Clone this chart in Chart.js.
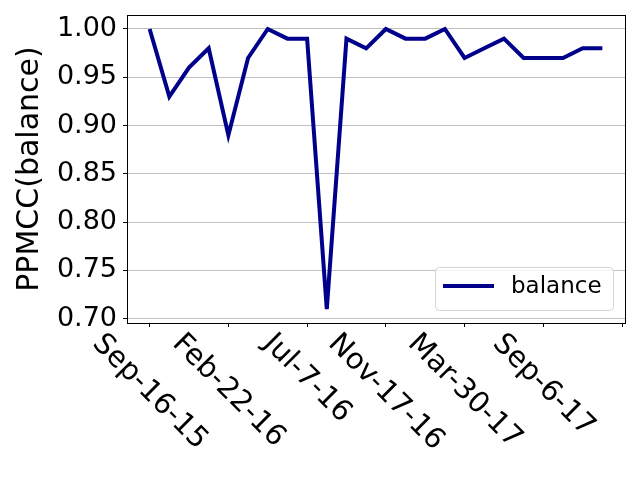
<!DOCTYPE html>
<html>
<head>
<meta charset="utf-8">
<script src="https://cdn.jsdelivr.net/npm/chart.js@4/dist/chart.umd.min.js"></script>
<style>
  html, body { margin: 0; padding: 0; background: #fff; }
  #wrap { width: 640px; height: 480px; }
</style>
</head>
<body>
<div id="wrap"><canvas id="ppmcc" width="640" height="480"></canvas></div>
<script>
// one point per period, ticks every 4th period
const balance = [1.00, 0.93, 0.96, 0.98, 0.89, 0.97, 1.00, 0.99, 0.99, 0.71, 0.99, 0.98,
                 1.00, 0.99, 0.99, 1.00, 0.97, 0.98, 0.99, 0.97, 0.97, 0.97, 0.98, 0.98]
const xTickPos = [0, 4, 8, 12, 16, 20, 24]
const xTickLabels = ['Sep-16-15', 'Feb-22-16', 'Jul-7-16', 'Nov-17-16', 'Mar-30-17', 'Sep-6-17', '']
const yTicks = [0.70, 0.75, 0.80, 0.85, 0.90, 0.95, 1.00]

const FONT = "'DejaVu Sans', sans-serif"
const lineColor = '#00008b'

const points = balance.map((v, i) => ({ x: i, y: v }))

// frame, rotated x labels and the legend box
const extras = {
    id: 'extras',
    afterDraw(chart) {
        const ctx = chart.ctx
        const area = chart.chartArea
        const xs = chart.scales.x
        ctx.save()
        ctx.strokeStyle = '#000'
        ctx.lineWidth = 1
        ctx.strokeRect(area.left + 0.5, area.top + 0.5, area.right - area.left, area.bottom - area.top)

        ctx.font = '29px ' + FONT
        ctx.fillStyle = '#000'
        ctx.textAlign = 'center'
        ctx.textBaseline = 'middle'
        xTickPos.forEach((p, i) => {
            const txt = xTickLabels[i]
            if (!txt) return
            const w = ctx.measureText(txt).width
            const side = (w + 29) / Math.SQRT2
            const cx = xs.getPixelForValue(p)
            const cy = area.bottom + 6 + side / 2
            ctx.save()
            ctx.translate(cx, cy)
            ctx.rotate(Math.PI / 4)
            ctx.fillText(txt, 0, 0)
            ctx.restore()
        })

        // legend
        const bx = area.right - 190, by = area.bottom - 56, bw = 178, bh = 43
        ctx.beginPath()
        ctx.roundRect(bx + 0.5, by + 0.5, bw, bh, 4)
        ctx.fillStyle = 'rgba(255,255,255,0.8)'
        ctx.fill()
        ctx.strokeStyle = 'rgba(204,204,204,0.8)'
        ctx.stroke()
        ctx.beginPath()
        ctx.moveTo(bx + 8, by + 19)
        ctx.lineTo(bx + 59, by + 19)
        ctx.strokeStyle = lineColor
        ctx.lineWidth = 4
        ctx.stroke()
        ctx.font = '23px ' + FONT
        ctx.fillStyle = '#000'
        ctx.textAlign = 'left'
        ctx.fillText('balance', bx + 76, by + 20)
        ctx.restore()
    }
}

new Chart(document.getElementById('ppmcc'), {
    type: 'line',
    data: {
        datasets: [{
            label: 'balance',
            data: points,
            borderColor: lineColor,
            borderWidth: 4,
            pointRadius: 0,
            fill: false,
            tension: 0
        }]
    },
    options: {
        responsive: false,
        animation: false,
        devicePixelRatio: 1,
        layout: { padding: { top: 15, right: 15, left: 0, bottom: 0 } },
        plugins: {
            legend: { display: false },
            tooltip: { enabled: false }
        },
        scales: {
            x: {
                type: 'linear',
                min: -1.15,
                max: 24.15,
                afterBuildTicks: (s) => { s.ticks = xTickPos.map(v => ({ value: v })) },
                afterFit: (s) => { s.height = 157; s.paddingLeft = 0; s.paddingRight = 0 },
                grid: { drawOnChartArea: false, tickLength: 4, tickColor: '#000' },
                border: { display: false },
                ticks: { display: false }
            },
            y: {
                min: 0.6955,
                max: 1.0145,
                afterBuildTicks: (s) => { s.ticks = yTicks.map(v => ({ value: v })) },
                afterFit: (s) => { s.width = 127; s.paddingTop = 0; s.paddingBottom = 0 },
                grid: { color: '#c0c0c0', lineWidth: 1, tickLength: 4, tickColor: '#000' },
                border: { display: false },
                ticks: {
                    font: { family: FONT, size: 27 },
                    color: '#000',
                    padding: 6,
                    callback: (v) => Number(v).toFixed(2)
                },
                title: {
                    display: true,
                    text: 'PPMCC(balance)',
                    color: '#000',
                    font: { family: FONT, size: 30 },
                    padding: { top: 12, bottom: 0 }
                }
            }
        }
    },
    plugins: [extras]
})
</script>
</body>
</html>
